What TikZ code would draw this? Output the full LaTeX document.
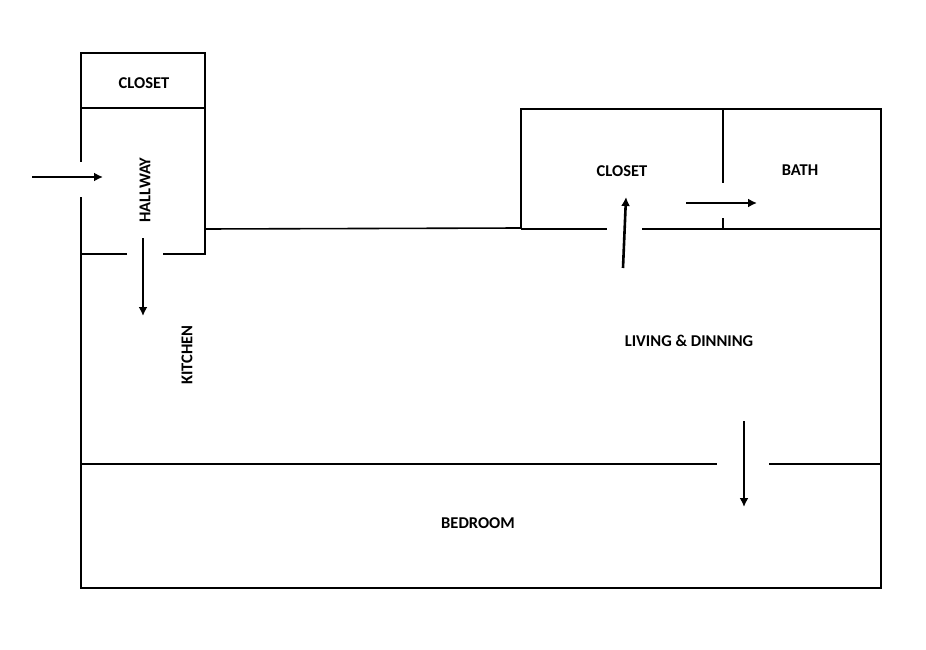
\documentclass[tikz,border=0pt]{standalone}
\usepackage{fontspec}
\setmainfont{Carlito}
\usetikzlibrary{arrows.meta}
\begin{document}
\begin{tikzpicture}[x=1pt,y=-1pt,
  wall/.style={line width=1.6pt,black},
  arr/.style={line width=2.6pt,-{Latex[length=9pt,width=9pt]}},
  lbl/.style={font=\bfseries\fontsize{16.5}{18}\selectfont}]
\useasboundingbox[fill=white] (0,0) rectangle (926,650);
% top-left closet
\draw[wall] (81,53) rectangle (205,108);
% hallway
\draw[wall] (81,108) -- (81,162);
\draw[wall] (81,197) -- (81,588) -- (881,588) -- (881,109) -- (521,109) -- (521,229);
\draw[wall] (205,108) -- (205,254) -- (163,254);
\draw[wall] (127,254) -- (81,254);
\draw[wall] (205,229) -- (521,228);
% right closet / bath
\draw[wall] (521,229) -- (607,229);
\draw[wall] (642,229) -- (881,229);
\draw[wall] (723,109) -- (723,183);
\draw[wall] (723,218) -- (723,229);
% bedroom
\draw[wall] (81,464) -- (717,464);
\draw[wall] (769,464) -- (881,464);
% arrows
\coordinate (a1) at (32,177); \coordinate (b1) at (103,177);
\coordinate (a2) at (143,238); \coordinate (b2) at (143,316);
\coordinate (a3) at (623,268); \coordinate (b3) at (626,197);
\coordinate (a4) at (686,203); \coordinate (b4) at (757,203);
\coordinate (a5) at (744,421); \coordinate (b5) at (744,507);
\draw[arr] (a1) -- (b1);
\draw[arr] (a2) -- (b2);
\draw[arr] (a3) -- (b3);
\draw[arr] (a4) -- (b4);
\draw[arr] (a5) -- (b5);
% labels
\node[lbl] (closet1) at (144,83) {CLOSET};
\node[lbl,rotate=90] (hall) at (145,190) {HALLWAY};
\node[lbl,rotate=90] (kit) at (187,355) {KITCHEN};
\node[lbl] (closet2) at (622,171) {CLOSET};
\node[lbl] (bath) at (800,170) {BATH};
\node[lbl] (living) at (689,341) {LIVING \& DINNING};
\node[lbl] (bed) at (478,523) {BEDROOM};
\end{tikzpicture}
\end{document}
